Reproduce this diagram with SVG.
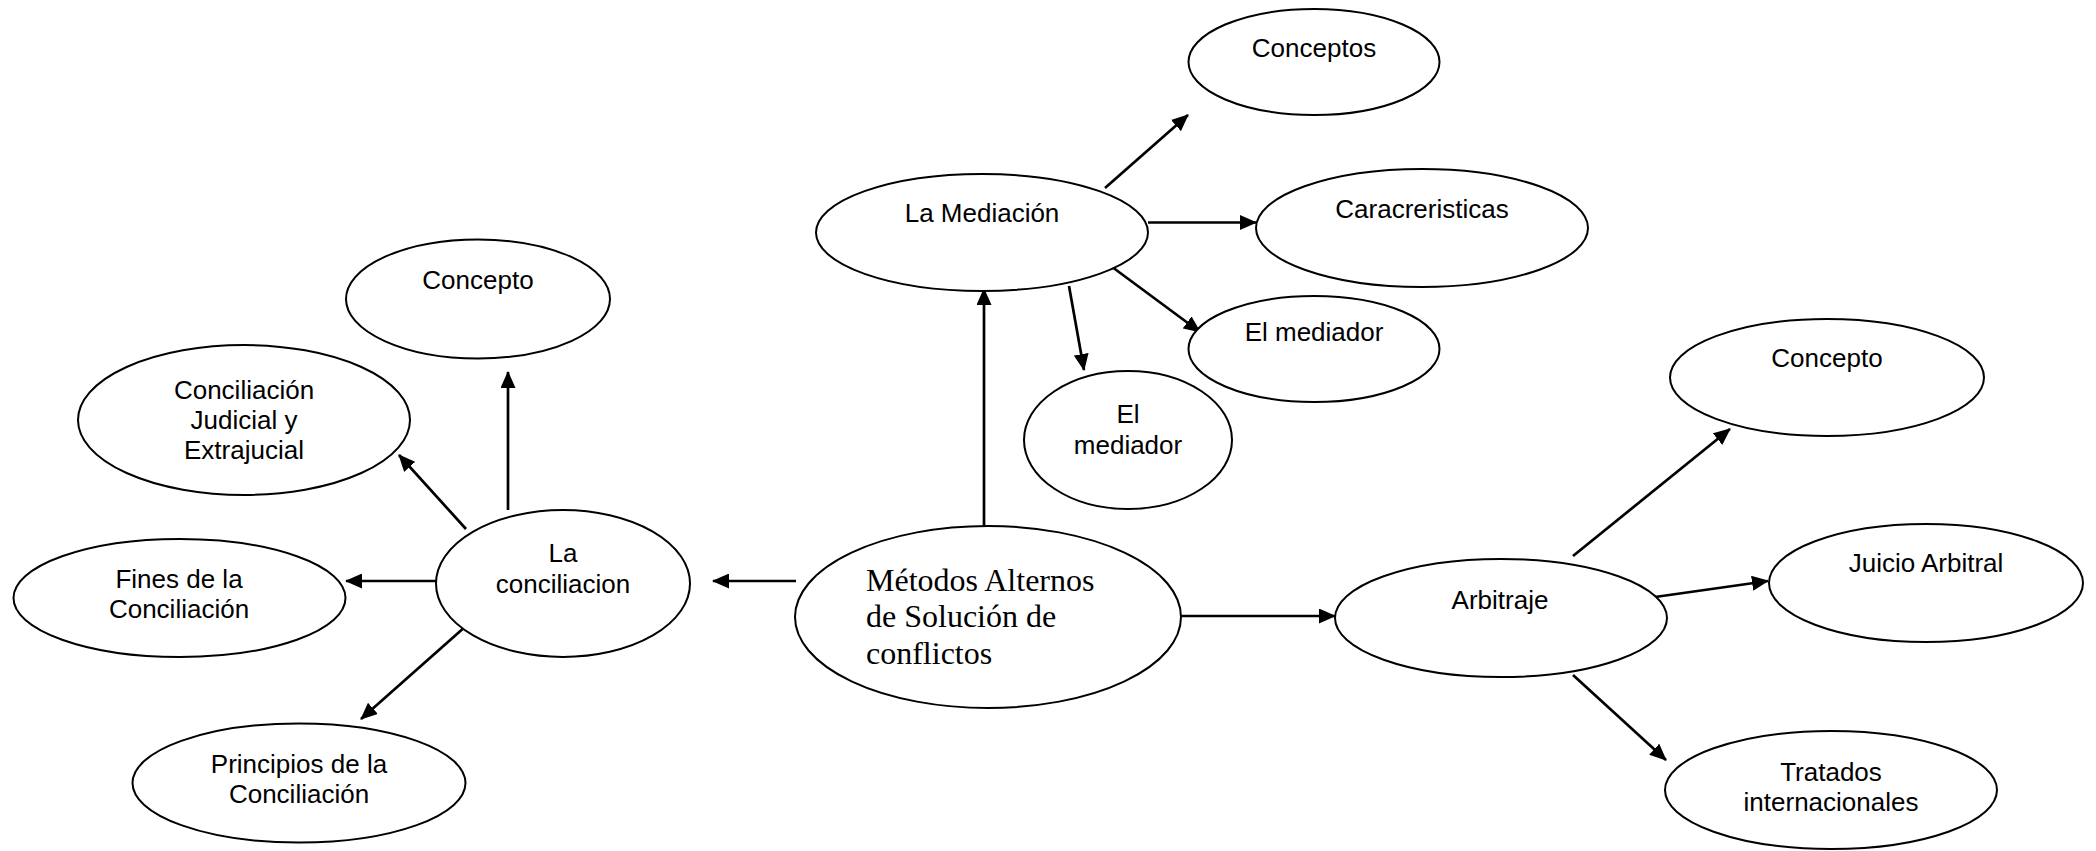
<svg xmlns="http://www.w3.org/2000/svg" width="2096" height="851" viewBox="0 0 2096 851">
<style>
.n ellipse{fill:#fff;stroke:#000;stroke-width:2}
.t{font-family:"Liberation Sans",Arial,sans-serif;font-size:26px;fill:#000;text-anchor:middle}
.s{font-family:"Liberation Serif","Times New Roman",serif;font-size:32px;fill:#000}
#edges line{stroke:#000;stroke-width:2.7;marker-end:url(#ah)}
</style>
<defs>
<marker id="ah" markerUnits="userSpaceOnUse" markerWidth="17" markerHeight="15" viewBox="0 0 17 15" refX="16" refY="7.5" orient="auto">
<path d="M0,0 L17,7.5 L0,15 z" fill="#000"/>
</marker>
</defs>
<rect width="2096" height="851" fill="#fff"/>
<g id="edges">
<line x1="508" y1="510" x2="508" y2="372"/>
<line x1="466" y1="529" x2="399" y2="455"/>
<line x1="436" y1="581" x2="346" y2="581"/>
<line x1="466" y1="626" x2="361" y2="719"/>
<line x1="796" y1="581" x2="713" y2="581"/>
<line x1="984" y1="526" x2="984" y2="289"/>
<line x1="1105" y1="188" x2="1188" y2="115"/>
<line x1="1148" y1="222.5" x2="1256" y2="222.5"/>
<line x1="1113.5" y1="268" x2="1200" y2="332"/>
<line x1="1069" y1="286" x2="1084" y2="370"/>
<line x1="1180" y1="616" x2="1335" y2="616"/>
<line x1="1573" y1="556" x2="1730" y2="429"/>
<line x1="1655" y1="597" x2="1768" y2="581"/>
<line x1="1573" y1="675" x2="1666" y2="760"/>
</g>
<g id="metodos" class="n">
<ellipse cx="988" cy="617" rx="193" ry="91"/>
<text class="s" x="866" y="591">Métodos Alternos</text>
<text class="s" x="866" y="627">de Solución de</text>
<text class="s" x="866" y="664">conflictos</text>
</g>
<g id="conciliacion" class="n">
<ellipse cx="563" cy="583.5" rx="127" ry="73.5"/>
<text class="t" x="563" y="562">La</text>
<text class="t" x="563" y="593">conciliacion</text>
</g>
<g id="concepto-conc" class="n">
<ellipse cx="478" cy="299" rx="132" ry="59.5"/>
<text class="t" x="478" y="289">Concepto</text>
</g>
<g id="judicial" class="n">
<ellipse cx="244" cy="420" rx="166" ry="75"/>
<text class="t" x="244" y="399">Conciliación</text>
<text class="t" x="244" y="429">Judicial y</text>
<text class="t" x="244" y="459">Extrajucial</text>
</g>
<g id="fines" class="n">
<ellipse cx="179.5" cy="598" rx="166" ry="59"/>
<text class="t" x="179" y="588">Fines de la</text>
<text class="t" x="179" y="618">Conciliación</text>
</g>
<g id="principios" class="n">
<ellipse cx="299" cy="783" rx="166.5" ry="59.5"/>
<text class="t" x="299" y="773">Principios de la</text>
<text class="t" x="299" y="803">Conciliación</text>
</g>
<g id="mediacion" class="n">
<ellipse cx="982" cy="232.5" rx="166" ry="58.5"/>
<text class="t" x="982" y="222">La Mediación</text>
</g>
<g id="conceptos" class="n">
<ellipse cx="1314" cy="62" rx="125.5" ry="53"/>
<text class="t" x="1314" y="57">Conceptos</text>
</g>
<g id="caracteristicas" class="n">
<ellipse cx="1422" cy="228" rx="166" ry="59"/>
<text class="t" x="1422" y="218">Caracreristicas</text>
</g>
<g id="mediador1" class="n">
<ellipse cx="1314" cy="349" rx="125.5" ry="53"/>
<text class="t" x="1314" y="341">El mediador</text>
</g>
<g id="mediador2" class="n">
<ellipse cx="1128" cy="440" rx="104" ry="69"/>
<text class="t" x="1128" y="423">El</text>
<text class="t" x="1128" y="454">mediador</text>
</g>
<g id="arbitraje" class="n">
<ellipse cx="1501" cy="618" rx="166" ry="59"/>
<text class="t" x="1500" y="609">Arbitraje</text>
</g>
<g id="concepto-arb" class="n">
<ellipse cx="1827" cy="377.5" rx="157" ry="58.5"/>
<text class="t" x="1827" y="367">Concepto</text>
</g>
<g id="juicio" class="n">
<ellipse cx="1926" cy="583" rx="157" ry="59"/>
<text class="t" x="1926" y="572">Juicio Arbitral</text>
</g>
<g id="tratados" class="n">
<ellipse cx="1831" cy="790" rx="166" ry="59"/>
<text class="t" x="1831" y="781">Tratados</text>
<text class="t" x="1831" y="811">internacionales</text>
</g>
</svg>
